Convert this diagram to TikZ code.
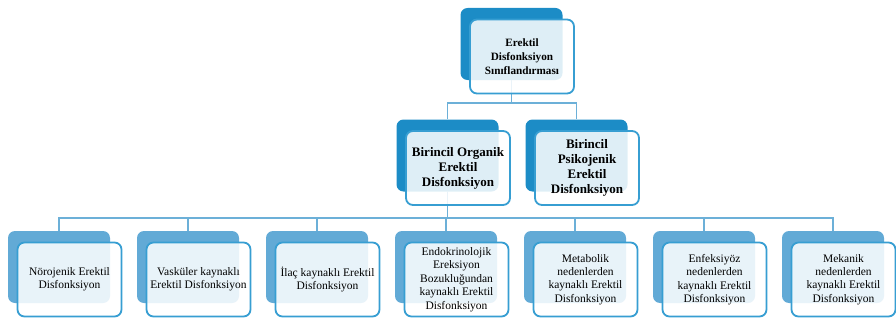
\documentclass[tikz,border=0pt]{standalone}
\usepackage{fontspec}
\setmainfont{Liberation Serif}
\usepackage{tikz}
\usetikzlibrary{positioning, calc}
\definecolor{edblue}{RGB}{28,140,198}
\definecolor{edlight}{RGB}{98,170,214}
\definecolor{edline}{RGB}{55,158,210}
\definecolor{edlink}{RGB}{108,176,216}

\begin{document}
\begin{tikzpicture}[
    x=1pt, y=-1pt,
    backbox/.style={rectangle, rounded corners=7pt, minimum width=102pt, minimum height=72pt,
                    fill=edblue, draw=none},
    lowback/.style={backbox, fill=edlight},
    frontbox/.style={rectangle, rounded corners=7pt, minimum width=104pt, minimum height=74pt,
                     draw=edline, line width=1.8pt, fill=white, fill opacity=0.86, text opacity=1,
                     align=center, inner sep=1pt, xshift=10.5pt, yshift=-12.5pt},
    headtext/.style={font=\bfseries\fontsize{11.2}{14}\selectfont},
    midtext/.style={font=\bfseries\fontsize{13}{15}\selectfont},
    lowtext/.style={font=\fontsize{11.5}{13.4}\selectfont},
    link/.style={draw=edlink, line width=1.6pt}
]
\useasboundingbox (0,0) rectangle (896,321);

% back boxes
\node[backbox] (topb) at (511.5,44) {};
\node[backbox] (orgb) at (447.5,155.5) {};
\node[backbox] (psib) at (576.5,155.5) {};
\foreach \i/\x in {1/59, 2/188, 3/317, 4/446, 5/575, 6/704, 7/833}
    \node[lowback] (low\i b) at (\x,267) {};

% connectors
\draw[link] (topb.south) -- ++(0,23) -| (orgb.north);
\draw[link] (topb.south) -- ++(0,23) -| (psib.north);
\foreach \i in {1,...,7}
    \draw[link] (orgb.south) -- ++(0,26) -| (low\i b.north);

% front boxes
\node[frontbox, headtext] (top) at (topb) {Erektil\\Disfonksiyon\\Sınıflandırması};
\node[frontbox, midtext] (org) at (orgb) {Birincil Organik\\Erektil\\Disfonksiyon};
\node[frontbox, midtext] (psi) at (psib) {Birincil\\Psikojenik\\Erektil\\Disfonksiyon};

\node[frontbox, lowtext] (low1) at (low1b) {Nörojenik Erektil\\Disfonksiyon};
\node[frontbox, lowtext] (low2) at (low2b) {Vasküler kaynaklı\\Erektil Disfonksiyon};
\node[frontbox, lowtext] (low3) at (low3b) {İlaç kaynaklı Erektil\\Disfonksiyon};
\node[frontbox, lowtext] (low4) at (low4b) {Endokrinolojik\\Ereksiyon\\Bozukluğundan\\kaynaklı Erektil\\Disfonksiyon};
\node[frontbox, lowtext] (low5) at (low5b) {Metabolik\\nedenlerden\\kaynaklı Erektil\\Disfonksiyon};
\node[frontbox, lowtext] (low6) at (low6b) {Enfeksiyöz\\nedenlerden\\kaynaklı Erektil\\Disfonksiyon};
\node[frontbox, lowtext] (low7) at (low7b) {Mekanik\\nedenlerden\\kaynaklı Erektil\\Disfonksiyon};

\end{tikzpicture}
\end{document}
